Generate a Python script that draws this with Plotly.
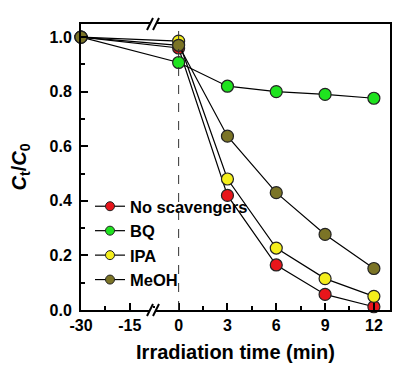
import plotly.graph_objects as go

# ---- data ----
times = [-30, 0, 3, 6, 9, 12]
tick_times = [-30, -15, 0, 3, 6, 9, 12]
tick_labels = ["-30", "-15", "0", "3", "6", "9", "12"]
series_names = ["No scavengers", "BQ", "IPA", "MeOH"]
no_scav = [1.0, 0.96, 0.42, 0.165, 0.057, 0.012]
bq = [1.0, 0.907, 0.82, 0.80, 0.79, 0.776]
ipa = [1.0, 0.985, 0.48, 0.227, 0.115, 0.05]
meoh = [1.0, 0.97, 0.637, 0.43, 0.277, 0.152]
colors = ["#e8151b", "#1fe31f", "#f4ee1c", "#7b7426"]


def pos(t):
    # broken axis: -30..0 compressed (15 min per tick), 0..12 (3 min per tick)
    return t / 15 + 2 if t <= 0 else t / 3 + 2


FONT = "Arial, Liberation Sans, sans-serif"
fig = go.Figure()
for name, vals, col in zip(series_names, [no_scav, bq, ipa, meoh], colors):
    fig.add_trace(go.Scatter(
        x=[pos(t) for t in times], y=vals, name=name, mode="lines+markers",
        line=dict(color="black", width=1.2),
        marker=dict(size=12, color=col, line=dict(color="#222", width=1.2)),
        cliponaxis=False, showlegend=False,
    ))
# legend entries with smaller symbols
for name, col in zip(series_names, colors):
    fig.add_trace(go.Scatter(
        x=[None], y=[None], name=name, mode="lines+markers",
        line=dict(color="black", width=1.2),
        marker=dict(size=9, color=col, line=dict(color="#222", width=1)),
    ))

L, R, T, B = 73, 29, 16, 69
W, H = 411, 371
pw, ph = W - L - R, H - T - B


def px(x):
    return (x - L) / pw


def py(y):
    return (H - B - y) / ph


shapes = [dict(type="line", xref="x", yref="paper", x0=2, x1=2, y0=0, y1=1,
               line=dict(color="#333", width=1, dash="dash"))]
for yc in (16, 302):
    shapes.append(dict(type="rect", xref="paper", yref="paper",
                       x0=px(142), x1=px(148), y0=py(yc + 2), y1=py(yc - 2),
                       fillcolor="white", line=dict(width=0), layer="above"))
    for dx in (0, 6):
        shapes.append(dict(type="line", xref="paper", yref="paper",
                           x0=px(139 + dx), y0=py(yc + 6), x1=px(145 + dx), y1=py(yc - 6),
                           line=dict(color="black", width=2), layer="above"))

fig.update_layout(
    width=W, height=H, margin=dict(l=L, r=R, t=T, b=B, autoexpand=False),
    plot_bgcolor="white", paper_bgcolor="white",
    font=dict(family=FONT, size=14, color="black"),
    showlegend=True,
    legend=dict(x=px(82), y=py(181), xanchor="left", yanchor="top",
                bgcolor="rgba(0,0,0,0)", font=dict(size=16.5, weight="bold"),
                tracegroupgap=0),
    shapes=shapes,
    xaxis=dict(range=[0, 6.33], tickmode="array", automargin=False,
               tickvals=[pos(t) for t in tick_times], ticktext=tick_labels,
               ticks="inside", ticklen=7, tickwidth=1.5, tickcolor="black",
               minor=dict(dtick=0.5, tick0=0, ticks="inside", ticklen=4, tickwidth=1.5, tickcolor="black"),
               showline=True, linewidth=2, linecolor="black", mirror=True,
               showgrid=False, zeroline=False,
               tickfont=dict(size=16, weight="bold"),
               title=dict(text="Irradiation time (min)", font=dict(size=20, weight="bold"), standoff=12)),
    yaxis=dict(range=[0, 1.048], tickmode="array", automargin=False,
               tickvals=[0, 0.2, 0.4, 0.6, 0.8, 1.0],
               ticktext=["0.0", "0.2", "0.4", "0.6", "0.8", "1.0"],
               ticks="inside", ticklen=7, tickwidth=1.5, tickcolor="black",
               minor=dict(dtick=0.1, tick0=0, ticks="inside", ticklen=4, tickwidth=1.5, tickcolor="black"),
               showline=True, linewidth=2, linecolor="black", mirror=True,
               showgrid=False, zeroline=False, ticklabelstandoff=4,
               tickfont=dict(size=16, weight="bold"),
               title=dict(text="<i>C</i><sub>t</sub>/<i>C</i><sub>0</sub>", font=dict(size=20, weight="bold"), standoff=22)),
)

fig.write_html("out.html")
